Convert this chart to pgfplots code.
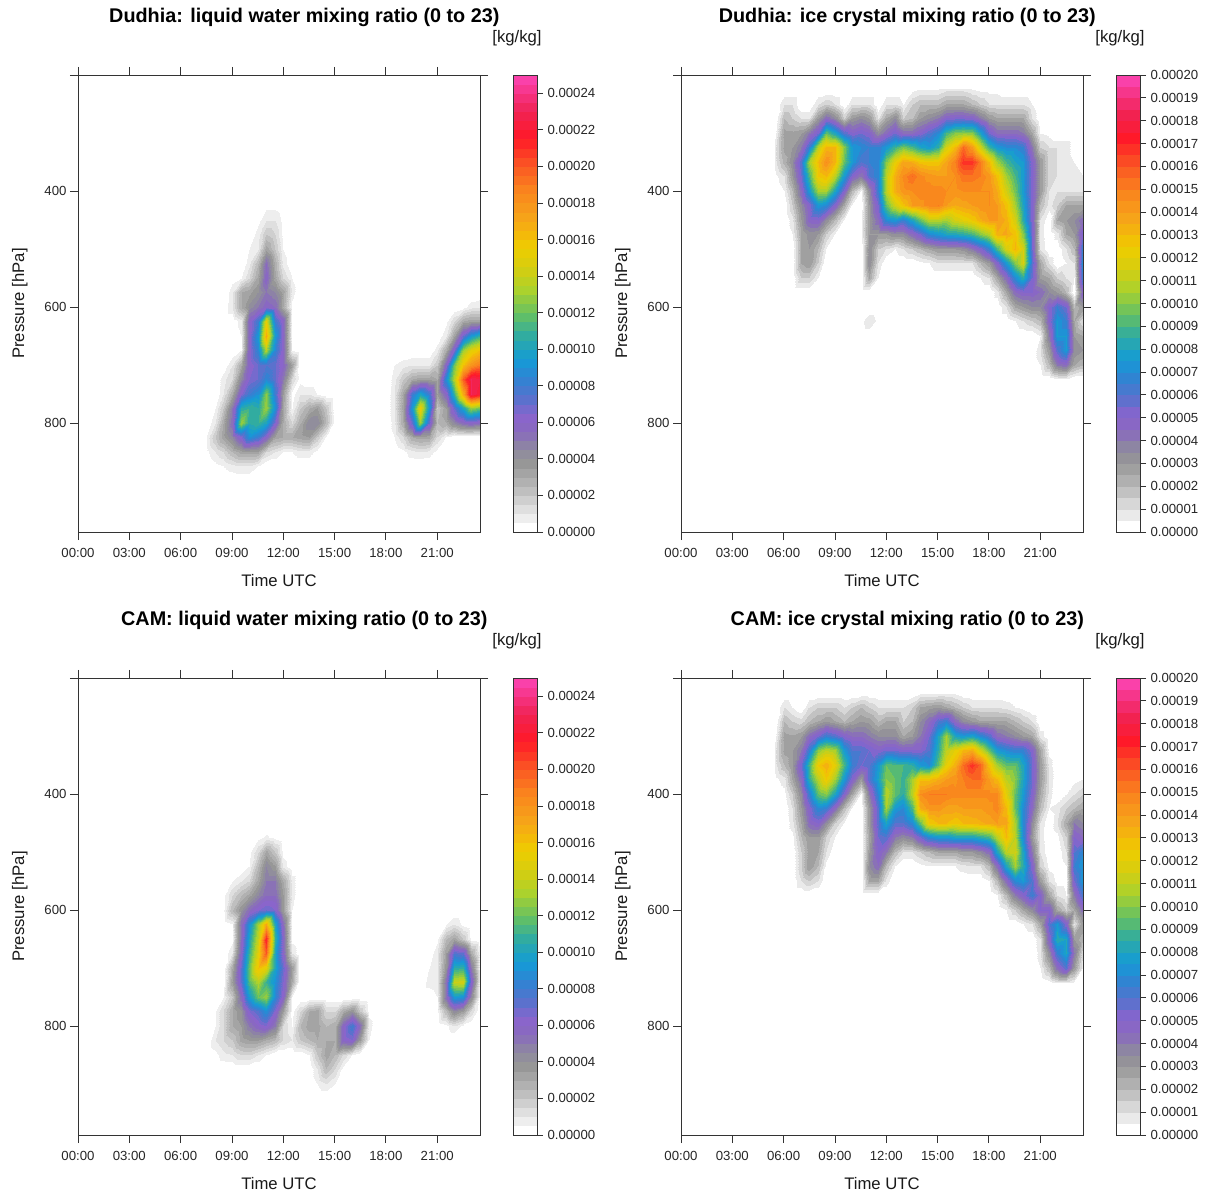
\documentclass[border=0pt]{standalone}
\usepackage{fontspec}
\setmainfont{Liberation Sans}
\usepackage{pgfplots}
\usepackage{pgfplotstable}
\pgfplotsset{compat=1.18}
\definecolor{axc}{HTML}{333333}
\pgfplotsset{
 colormap={rich}{
  rgb255(0pt)=(255,255,255) rgb255(20pt)=(238,238,238) rgb255(40pt)=(224,224,224)
  rgb255(60pt)=(208,208,208) rgb255(80pt)=(192,192,192) rgb255(100pt)=(178,178,178)
  rgb255(145pt)=(150,150,150) rgb255(175pt)=(142,137,160) rgb255(215pt)=(137,105,190)
  rgb255(250pt)=(138,100,205) rgb255(290pt)=(85,115,205) rgb255(330pt)=(50,130,210)
  rgb255(375pt)=(20,155,215) rgb255(425pt)=(45,170,165) rgb255(470pt)=(95,190,105)
  rgb255(530pt)=(170,210,45) rgb255(580pt)=(215,205,15) rgb255(625pt)=(238,205,0)
  rgb255(655pt)=(243,185,10) rgb255(690pt)=(246,165,25) rgb255(755pt)=(250,130,30) rgb255(810pt)=(250,85,35)
  rgb255(870pt)=(255,25,40) rgb255(930pt)=(240,35,85) rgb255(1000pt)=(250,65,170)
 },
 colormap name=rich,
}
\newcommand\fsT{\fontsize{13.2}{15}\selectfont}
\newcommand\fsL{\fontsize{16.7}{19}\selectfont}
\newcommand\fsH{\bfseries\fontsize{19.8}{23}\selectfont}
% liquid: hours 7.5 ... 23.5 every half hour; values in 1e-5 kg/kg
\pgfplotstableread[header=false]{
425 0 0 0 0 0 0 0 .3 .3 0 0 0 0 0 0 0 0 0 0 0 0 0 0 0 0 0 0 0 0 0 0 0 0
450 0 0 0 0 0 0 .3 1 1 .3 0 0 0 0 0 0 0 0 0 0 0 0 0 0 0 0 0 0 0 0 0 0 0
475 0 0 0 0 0 0 .8 2 1.5 .3 0 0 0 0 0 0 0 0 0 0 0 0 0 0 0 0 0 0 0 0 0 0 0
500 0 0 0 0 0 .5 1 3.3 2 .5 0 0 0 0 0 0 0 0 0 0 0 0 0 0 0 0 0 0 0 0 0 0 0
525 0 0 0 0 0 .8 2.5 5.5 2.8 .8 0 0 0 0 0 0 0 0 0 0 0 0 0 0 0 0 0 0 0 0 0 0 0
550 0 0 0 .3 .5 1.5 3.2 6 3.2 1.5 .5 0 0 0 0 0 0 0 0 0 0 0 0 0 0 0 0 0 0 0 0 0 0
575 0 0 0 .8 3 3.3 4 5 4.5 3.3 .8 0 0 0 0 0 0 0 0 0 0 0 0 0 0 0 0 0 0 0 0 0 0
600 0 0 0 1 3 4.2 5 6 5.5 3 .3 0 0 0 0 0 0 0 0 0 0 0 0 0 0 0 0 0 0 0 .3 .8 1
625 0 0 0 0 .8 6 8 15 8 6 .3 0 0 0 0 0 0 0 0 0 0 0 0 0 0 0 0 0 .3 1.5 3 3.3 3.3
650 0 0 0 0 .5 6 9.5 17 9.5 6 .3 0 0 0 0 0 0 0 0 0 0 0 0 0 0 0 0 0 1 3.3 7 9.5 11
675 0 0 0 0 .5 6 8.5 13.5 8.5 6 .5 0 0 0 0 0 0 0 0 0 0 0 0 0 0 0 0 .8 3 6.5 13 15 16
700 0 0 0 1 3 6 7 7.5 7 6 3.3 0 0 0 0 0 0 0 0 0 0 0 .5 .8 1 1 1 2 6 12 16 18 19
725 0 0 .8 1.5 4.5 6.5 7 8.5 7 5 1.5 .3 0 0 0 0 0 0 0 0 0 0 .8 2 3 3.3 3.3 3 9 13.5 20 23 22.5
750 0 0 1 3 6.5 8 9 12.5 8 3.5 .3 1 1 .5 0 0 0 0 0 0 0 0 1 3.2 8 10 8 3.5 6 11 17 23 22
775 0 .5 2 5 10.5 11 10.5 13 9 3.2 .5 2 3 3.5 2 0 0 0 0 0 0 0 1 3.3 9.5 15.5 9.5 2 3.5 7 10 13 12
800 0 1 3 5.5 13 10.5 11 10 6.5 3 1.5 3 4.5 4.5 2.5 0 0 0 0 0 0 0 .8 3 7 13 7 2.5 3 4.5 5.5 6 5.5
825 .5 2 3.3 4.5 6.5 9 8 6 3.3 3 3 3.3 3.5 2 .5 0 0 0 0 0 0 0 .5 1.5 3 3.3 3.2 1.5 .5 0 0 0 0
850 .3 1 1.5 2.5 3.2 3.3 3.2 1.5 1 .5 .5 .8 .8 .3 0 0 0 0 0 0 0 0 0 .3 .8 1 .8 .3 0 0 0 0 0
875 0 .3 .5 .8 1 1 .5 0 0 0 0 0 0 0 0 0 0 0 0 0 0 0 0 0 0 0 0 0 0 0 0 0 0
900 0 0 0 0 0 0 0 0 0 0 0 0 0 0 0 0 0 0 0 0 0 0 0 0 0 0 0 0 0 0 0 0 0
925 0 0 0 0 0 0 0 0 0 0 0 0 0 0 0 0 0 0 0 0 0 0 0 0 0 0 0 0 0 0 0 0 0
}\tabDL
\pgfplotstableread[header=false]{
425 0 0 0 0 0 0 0 0 0 0 0 0 0 0 0 0 0 0 0 0 0 0 0 0 0 0 0 0 0 0 0 0 0
450 0 0 0 0 0 0 0 0 0 0 0 0 0 0 0 0 0 0 0 0 0 0 0 0 0 0 0 0 0 0 0 0 0
475 0 0 0 0 0 0 .3 .6 .3 0 0 0 0 0 0 0 0 0 0 0 0 0 0 0 0 0 0 0 0 0 0 0 0
500 0 0 0 0 0 .3 1.5 3.2 2 .3 0 0 0 0 0 0 0 0 0 0 0 0 0 0 0 0 0 0 0 0 0 0 0
525 0 0 0 0 0 .5 2.5 4.5 3.5 .8 0 0 0 0 0 0 0 0 0 0 0 0 0 0 0 0 0 0 0 0 0 0 0
550 0 0 0 .5 1 1.5 3.2 5 5 3 .8 0 0 0 0 0 0 0 0 0 0 0 0 0 0 0 0 0 0 0 0 0 0
575 0 0 .3 1.5 2.5 3.2 4.5 5.5 5.5 3.5 .8 0 0 0 0 0 0 0 0 0 0 0 0 0 0 0 0 0 0 0 0 0 0
600 0 0 .3 2.5 4 5.5 6.5 7 6.5 3.5 .5 0 0 0 0 0 0 0 0 0 0 0 0 0 0 0 0 0 0 0 0 0 0
625 0 0 0 .5 5.5 9 13 17 10 5.5 .3 0 0 0 0 0 0 0 0 0 0 0 0 0 0 0 0 0 .5 1 .3 0 0
650 0 0 0 .3 5.5 10 14 21.5 11 6 .3 0 0 0 0 0 0 0 0 0 0 0 0 0 0 0 0 .3 2.5 3.3 2 .3 0
675 0 0 0 1 6 11 15 20 10 6 1 0 0 0 0 0 0 0 0 0 0 0 0 0 0 0 0 1 3.5 7.5 7 3 .5
700 0 0 0 3 7 12 16 15 10 7 3.5 0 0 0 0 0 0 0 0 0 0 0 0 0 0 0 .5 1 4 10.5 11 5 .5
725 0 0 0 3.5 7 11.5 13.5 11 9 6.5 3 0 0 0 0 0 0 0 0 0 0 0 0 0 0 0 .8 1 5.5 14 14.5 6.5 .5
750 0 0 .5 2 5.5 9.5 12 13 8.5 6 .5 0 0 0 0 0 0 0 0 0 0 0 0 0 0 0 0 .5 5.5 9.5 9 4.5 .3
775 0 .5 1.5 3 4 6.5 7.5 9 6.5 3.5 .3 1.5 3 3.3 1.5 1.5 3 4 2 .3 0 0 0 0 0 0 0 .3 2.5 4.5 3.5 1.5 0
800 0 .5 1.5 3 3.5 5 6 6.5 5 1.5 .5 2.5 3.3 3.3 2.5 3 6 8 5.5 .8 0 0 0 0 0 0 0 0 .3 1 .3 0 0
825 0 1 1.5 2 3.2 3.5 3.5 3 2.5 1.5 1 2 2.5 3 3 3 6 6.5 3.5 .5 0 0 0 0 0 0 0 0 0 0 0 0 0
850 0 .3 .8 1 1.5 1.5 1 .5 0 0 0 0 .5 2 3.3 2.5 1.5 .5 0 0 0 0 0 0 0 0 0 0 0 0 0 0 0
875 0 0 0 0 0 0 0 0 0 0 0 0 0 1 2.5 1.5 .3 0 0 0 0 0 0 0 0 0 0 0 0 0 0 0 0
900 0 0 0 0 0 0 0 0 0 0 0 0 0 .5 1 .5 0 0 0 0 0 0 0 0 0 0 0 0 0 0 0 0 0
925 0 0 0 0 0 0 0 0 0 0 0 0 0 0 0 0 0 0 0 0 0 0 0 0 0 0 0 0 0 0 0 0 0
}\tabCL
% ice: hours 5.5 ... 23.5 every half hour; values in 1e-5 kg/kg
\pgfplotstableread[header=false]{
225 0 0 0 0 0 0 0 0 0 0 0 0 0 0 0 0 .3 .5 .5 .5 .8 .8 .8 .5 .3 .3 .3 0 0 0 0 0 0 0 0 0 0
250 0 1 1 0 0 1 1.5 1 0 1 1 1 0 1 1 .5 1.5 2 2 2 2.5 2.5 2.5 2 1.5 1 1 1 1 1 .5 0 0 0 0 0 0
275 0 2 1.5 1 1 3 4.5 3.5 1.5 3 3.5 3 1 2.5 3.5 1.5 2 3 3.5 4 5 5.2 5.2 5 4 3 2.5 2.5 2.5 2.5 1 0 0 0 0 0 0
300 .3 2.7 2.7 3 4 5.5 9.5 8 6 5 5.5 5 3.5 4.5 5.5 4.5 4.5 5 6 7 9 10 10.2 10 8 5.5 4.5 4.5 4.5 4 2.5 .5 .3 0 0 0 0
325 .8 2.7 3 4 6.5 11 13.2 13 10 7.5 7 6.5 6.5 7.5 8.8 9.8 9 8 7.5 8.5 11.5 13 15.5 14 11.5 8.8 7.5 7 7 6.5 4 1.5 1 1 1 0 0
350 .8 2.2 3.5 6 10.5 13 14.5 13 9.5 7.5 6 6.5 7 10 12.2 13.8 13.5 12.8 12.5 12.6 13.8 15 16.8 16.8 15.2 13 10.5 9 8 7.5 5 3 1.2 1 1 .5 0
375 .3 1 3 5.5 9 12.5 13 11 7.5 5 4 6 7 11 13.4 14.6 15.5 14.7 14.3 14 14 14.5 15.3 15.3 15 14.2 12.8 10.5 9 7.5 5 3 1.2 1 1 1 .5
400 0 .5 2 4.5 7.5 10.5 10.5 8 5 2 .5 3.5 6.5 11 13.4 14.3 14.5 14.8 14.8 14.8 14.5 14.3 14.5 14.5 14.5 14.5 13.5 11.5 9.7 7.5 5 3 1 1 1 1 1
425 0 0 1.5 3.5 5 7.5 7 5 2.5 .5 0 3 5.5 9.5 11.5 12.8 14 14.3 14.8 15 14 13.5 13.8 14 14.3 14.5 14 12.8 10.5 8 5 2 .8 1.5 2.5 2.5 2.5
450 0 0 .8 3 4.8 5 3.5 2 .5 0 .5 3 4.5 7 7.5 6.5 8 9.5 11 11 10.5 11.5 12 12.5 13.4 14 14 13.4 11.5 8.5 5 1 0 2.5 3 3.5 4.5
475 0 0 .5 2.5 3.2 3 1.5 .5 0 0 .5 3 3 3 3.5 3.5 4.5 5.5 7 7.5 8 8.2 8.5 9 10 11 13.4 13.6 12.8 10 5.5 .8 0 .8 2.5 3 5.5
500 0 0 0 2.5 3 2 .5 0 0 0 0 3.5 1.5 1 .5 1 1.5 2 2.5 3 3 3 3.2 4 5 6.5 9 11.5 13.2 11.5 5.5 1 0 0 1 2 7
525 0 0 0 2.5 3 1.5 0 0 0 0 0 3.5 1 0 0 0 0 .3 .5 1 1 1 1 1 2 3 5 7.5 10 11.5 6 2.5 1 0 .5 1 7.5
550 0 0 0 1.5 1.5 .5 0 0 0 0 0 2.5 .5 0 0 0 0 0 0 0 0 0 0 0 .5 1 2.5 4.5 7 8.5 5.5 3 2.5 1.5 1 .5 7
575 0 0 0 0 0 0 0 0 0 0 0 0 0 0 0 0 0 0 0 0 0 0 0 0 0 0 .8 2.5 4.5 5 5 4.5 3.5 3 2 0 5
600 0 0 0 0 0 0 0 0 0 0 0 0 0 0 0 0 0 0 0 0 0 0 0 0 0 0 0 1 2.5 3 3.5 3.5 5 6.5 5.5 2 3
625 0 0 0 0 0 0 0 0 0 0 .3 1 .3 0 0 0 0 0 0 0 0 0 0 0 0 0 0 0 .5 1 1.5 2 5 7.5 6.5 2.5 1
650 0 0 0 0 0 0 0 0 0 0 0 0 0 0 0 0 0 0 0 0 0 0 0 0 0 0 0 0 0 0 0 .5 4 7.5 7.5 3 2.5
675 0 0 0 0 0 0 0 0 0 0 0 0 0 0 0 0 0 0 0 0 0 0 0 0 0 0 0 0 0 0 0 1 3 6 7.5 3.5 3
700 0 0 0 0 0 0 0 0 0 0 0 0 0 0 0 0 0 0 0 0 0 0 0 0 0 0 0 0 0 0 0 .5 2 4 4.5 2.5 2
725 0 0 0 0 0 0 0 0 0 0 0 0 0 0 0 0 0 0 0 0 0 0 0 0 0 0 0 0 0 0 0 0 0 .5 .5 0 0
}\tabDI
\pgfplotstableread[header=false]{
225 0 0 0 0 0 0 0 0 0 0 0 0 0 0 0 0 0 .3 .3 .3 .3 .3 0 0 0 0 0 0 0 0 0 0 0 0 0 0 0
250 0 1 .5 0 1 1.5 1.5 1.5 1 1.5 2 1.5 1 1 1 1 1.5 2.5 2.8 3 2.5 2 1.5 1 1 1 1 .8 .5 .3 0 0 0 0 0 0 0
275 0 2 1.5 1.2 2 2.5 3 2.5 2 2.5 3 2.8 2 2.5 2.5 1.5 2 3.5 4.5 6 6.5 4.5 3.5 3 2.5 2.5 2.5 2.5 2 1.5 1 0 0 0 0 0 0
300 .3 2.7 2.6 3 4.5 5.5 6.5 6 5 4.5 4.5 4 3.5 3.5 3.5 2.5 3 4 5.5 8 10.5 8 7.5 8 7 6 4.5 4 3.5 3 2.5 .8 0 0 0 0 0
325 .8 2.7 3 4 6.5 10 11 10.5 7.5 6 6 5.5 5 5.5 5.5 5 5 5 6 8.5 11 12 13 13.5 11.5 9.5 7.5 7 6.5 6.5 5 2.5 .3 0 0 0 0
350 .8 2 3 5.5 9 12.5 13.5 12 9 6.5 5.5 6 7.5 9.5 9 9 8.5 7.5 7 9.5 12 13.4 15.5 16.8 15.8 12.8 10.5 9.5 9.5 8 5.5 3 .8 0 0 0 0
375 .3 .8 2.5 4.5 8.5 11 12.5 10.5 7.5 5 3 6 8 10 9.5 8.8 10.5 12.8 12.8 13.4 14 14.3 15 15.5 15.5 14 13 11 10 8 5.5 3 1 0 0 .3 .5
400 0 .3 1.5 3.5 6.5 9.5 10 8 5 2.5 .5 4 7 11 9.5 8.5 11 14.5 15 15 15 14.7 14.7 14.7 14.7 14.7 14.7 12 9.5 7.5 5 2.5 .8 0 .5 1 1.5
425 0 0 1 3 5 7 6.5 4.5 2 .5 0 3 6 10.5 7.5 7 9 13.5 14.3 14.3 13.8 13.8 14 14 14 14.3 14.8 13 9.5 7 4.5 2 .5 .8 1.5 2 2.5
450 0 0 .8 2.5 4.5 5 3.5 1.5 .5 0 0 3 6 8 6 6 7 9.5 12.5 13 13 12.5 13 13.2 13.4 13.6 14 13.8 10.5 7 3.5 1 0 1 2.5 4 3.5
475 0 0 .3 2 3 3 1.5 .5 0 0 0 2.5 5.5 6 4 3.5 4 5.5 7 7.5 7.5 8 8 8 8.5 9 11 13 11 7 3 .8 0 .3 1.5 5 4.5
500 0 0 0 1.5 2.8 2.5 1 0 0 0 0 3 5 4 2 1 1 1.5 2 2.5 2.5 2.5 3 3 3.5 4.5 8 11 11.5 8 4 1 0 0 1 6 7
525 0 0 0 1.5 3 2 .3 0 0 0 0 3.5 4.5 2 .5 0 0 .3 .5 .5 .5 .5 .8 1 1 2 4.5 8 10.5 8.5 5 1.5 .3 0 .5 6.5 7.5
550 0 0 0 1 1.5 1 0 0 0 0 0 2.5 2.5 .8 0 0 0 0 0 0 0 0 0 0 0 .5 2 4.5 7 7.5 6 3 1 .3 .3 5.5 7.5
575 0 0 0 0 0 0 0 0 0 0 0 0 0 0 0 0 0 0 0 0 0 0 0 0 0 0 .5 2 4 5 6.5 5 2.5 1 .5 4 6.5
600 0 0 0 0 0 0 0 0 0 0 0 0 0 0 0 0 0 0 0 0 0 0 0 0 0 0 0 .5 1.5 2.5 3.5 5 5 2.5 1.5 2.5 4.5
625 0 0 0 0 0 0 0 0 0 0 0 0 0 0 0 0 0 0 0 0 0 0 0 0 0 0 0 0 0 .5 1 2.5 6 7.5 5 1 3
650 0 0 0 0 0 0 0 0 0 0 0 0 0 0 0 0 0 0 0 0 0 0 0 0 0 0 0 0 0 0 0 1 5 8.5 8 3 2
675 0 0 0 0 0 0 0 0 0 0 0 0 0 0 0 0 0 0 0 0 0 0 0 0 0 0 0 0 0 0 0 .8 3.5 6.5 8 4 1
700 0 0 0 0 0 0 0 0 0 0 0 0 0 0 0 0 0 0 0 0 0 0 0 0 0 0 0 0 0 0 0 .5 2 4.5 6 3 .5
725 0 0 0 0 0 0 0 0 0 0 0 0 0 0 0 0 0 0 0 0 0 0 0 0 0 0 0 0 0 0 0 0 .3 1 1 .5 0
}\tabCI
\newcommand{\buildcoords}[2]{%
 \gdef\coords{}%
 \pgfplotstablegetrowsof{#1}\pgfmathtruncatemacro\nr{\pgfplotsretval-1}%
 \pgfplotstablegetcolsof{#1}\pgfmathtruncatemacro\nc{\pgfplotsretval-1}%
 \foreach \r in {0,...,\nr}{%
  \pgfplotstablegetelem{\r}{[index]0}\of{#1}\let\pp\pgfplotsretval
  \foreach \c in {1,...,\nc}{%
   \pgfmathsetmacro\xx{#2+0.5*(\c-1)}%
   \pgfplotstablegetelem{\r}{[index]\c}\of{#1}%
   \xdef\coords{\coords (\xx,\pp) [\pgfplotsretval]}%
  }%
 }%
}
\pgfplotsset{common/.style={
  scale only axis, axis on top, clip=false, axis line style={axc,line width=0.9pt},
  every tick/.style={axc,line width=0.9pt},
  tick align=outside, major tick length=8pt,
  tick label style={font=\fsT,text=black!85},
 }}
% #1 x, #2 y, #3 title, #4 table, #5 first hour, #6 vmax, #7 bands, #8 cols
\newcommand{\panel}[8]{%
 \buildcoords{#4}{#5}%
 \begin{axis}[common, at={(#1,#2)}, anchor=south west, width=402pt, height=457pt,
  xmin=0,xmax=23.5,ymin=200,ymax=988,y dir=reverse,
  xtick={0,3,6,9,12,15,18,21}, xticklabels={00:00,03:00,06:00,09:00,12:00,15:00,18:00,21:00},
  ytick={200,400,600,800}, yticklabels={,400,600,800},
  tick pos=both, xticklabel pos=bottom, yticklabel pos=left,
  x tick label style={yshift=-5pt},
  xlabel={Time UTC}, ylabel={Pressure [hPa]},
  every axis x label/.style={at={(axis description cs:0.5,-0.1072)},anchor=center,font=\fsL,text=black!90},
  every axis y label/.style={at={(axis description cs:-0.145,0.5)},anchor=center,rotate=90,font=\fsL,text=black!90},
  title={#3}, every axis title/.style={at={(axis description cs:0.563,1.125)},anchor=center,font=\fsH},
  point meta min=0, point meta max=#6]
  \edef\temp{\noexpand\addplot[surf,shader=interp,contour filled={number=#7},point meta=explicit,mesh/rows=21,mesh/cols=#8] coordinates {\coords};}\temp
 \end{axis}}
% #1 x, #2 y, #3 vmax, #4 bands, #5 ticks, #6 labels
\newcommand{\cbar}[6]{%
 \begin{axis}[common, at={(#1,#2)}, anchor=south west, width=24pt, height=457pt,
  xmin=0,xmax=1,ymin=0,ymax=#3, xtick=\empty, ytick={#5}, yticklabels/.expanded={#6},
  ytick pos=right, yticklabel pos=right, major tick length=6pt,
  y tick label style={xshift=1pt},
  point meta min=0, point meta max=#3]
  \addplot[surf,shader=interp,contour filled={number=#4},point meta=explicit,mesh/rows=2,mesh/cols=2]
   coordinates {(0,0) [0] (1,0) [0] (0,#3) [#3] (1,#3) [#3]};
  \node[font=\fsL,text=black!90,anchor=center] at (axis description cs:0.167,1.081) {[kg/kg]};
 \end{axis}}
\newcommand\ticksL{0,2,4,6,8,10,12,14,16,18,20,22,24}
\newcommand\labsL{0.00000,0.00002,0.00004,0.00006,0.00008,0.00010,0.00012,0.00014,0.00016,0.00018,0.00020,0.00022,0.00024}
\newcommand\ticksI{0,1,...,20}
\newcommand\labsI{0.00000,0.00001,0.00002,0.00003,0.00004,0.00005,0.00006,0.00007,0.00008,0.00009,0.00010,0.00011,0.00012,0.00013,0.00014,0.00015,0.00016,0.00017,0.00018,0.00019,0.00020}
\begin{document}
\begin{tikzpicture}[x=1pt,y=1pt]
\path[use as bounding box] (0,0) rectangle (1212,1194);
\panel{78pt}{662pt}{Dudhia: liquid water mixing ratio (0 to 23)}{\tabDL}{7.5}{25}{50}{33}
\cbar{513pt}{662pt}{25}{50}{\ticksL}{\labsL}
\panel{681pt}{662pt}{Dudhia: ice crystal mixing ratio (0 to 23)}{\tabDI}{5.5}{20}{40}{37}
\cbar{1116pt}{662pt}{20}{40}{\ticksI}{\labsI}
\panel{78pt}{59pt}{CAM: liquid water mixing ratio (0 to 23)}{\tabCL}{7.5}{25}{50}{33}
\cbar{513pt}{59pt}{25}{50}{\ticksL}{\labsL}
\panel{681pt}{59pt}{CAM: ice crystal mixing ratio (0 to 23)}{\tabCI}{5.5}{20}{40}{37}
\cbar{1116pt}{59pt}{20}{40}{\ticksI}{\labsI}
\end{tikzpicture}
\end{document}
